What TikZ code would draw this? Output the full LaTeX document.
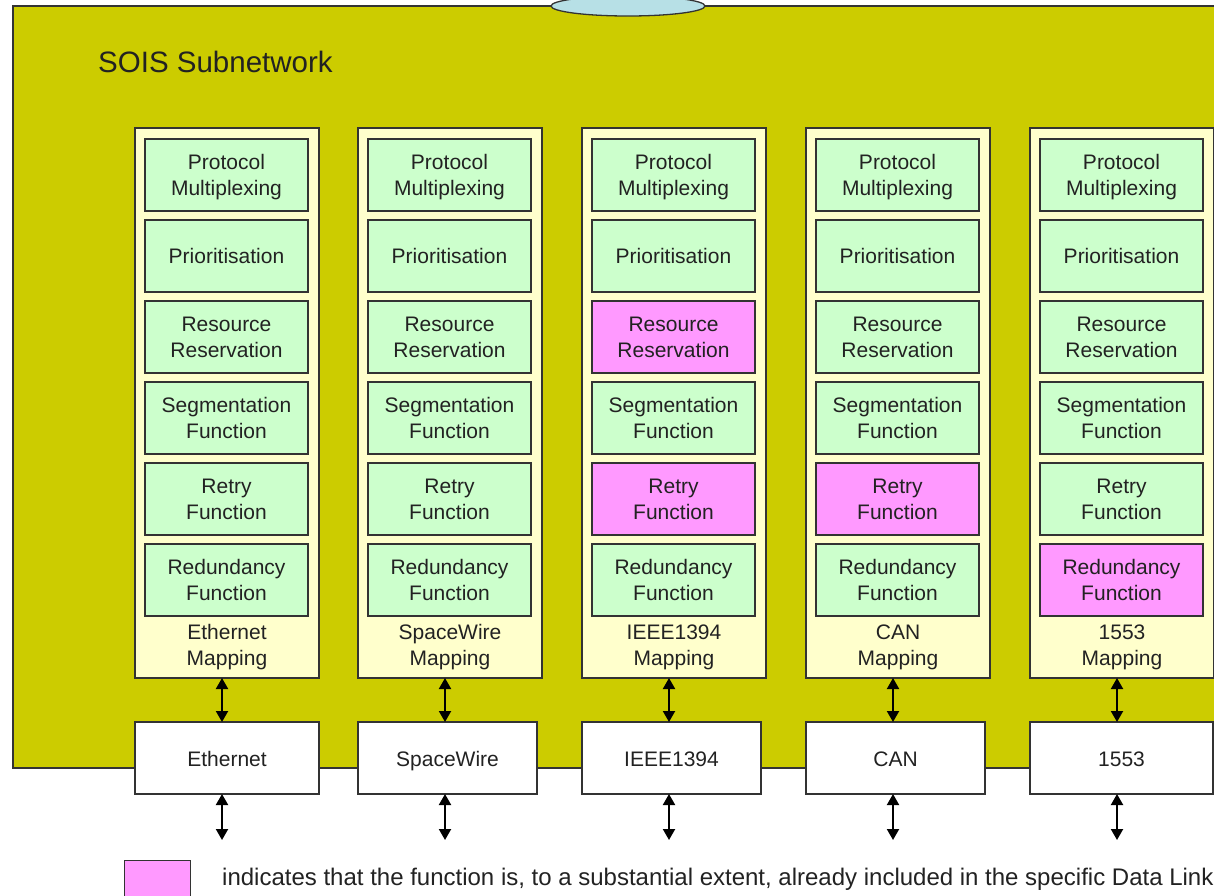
\documentclass[tikz,border=0pt]{standalone}
\usepackage{fontspec}
\setmainfont{Liberation Sans}
\usetikzlibrary{arrows.meta,calc}
\definecolor{soisolive}{HTML}{CCCC00}
\definecolor{colfill}{HTML}{FFFFCC}
\definecolor{fgreen}{HTML}{CCFFCC}
\definecolor{fpink}{HTML}{FF99FF}
\definecolor{ellblue}{HTML}{B7E0E6}
\definecolor{edge}{HTML}{333333}
\definecolor{txt}{HTML}{222222}
\newcommand{\twoline}[2]{\raisebox{-2pt}[\height][\depth]{\begin{tabular}{@{}c@{}}#1\\#2\end{tabular}}}
\tikzset{
  colbox/.style={draw=edge, line width=1.3pt, fill=colfill, anchor=north west, inner sep=0pt, outer sep=0pt, minimum width=184, minimum height=550},
  fbox/.style={draw=edge, line width=1.3pt, anchor=north west, inner sep=0pt, outer sep=0pt, minimum width=163, minimum height=72, align=center, text=txt},
  dlbox/.style={draw=edge, line width=1.3pt, fill=white, anchor=north west, inner sep=0pt, outer sep=0pt, minimum height=72, text=txt, text height=18pt, text depth=1pt},
  maplabel/.style={align=center, text=txt, inner sep=0pt},
  biarrow/.style={line width=2pt, {Triangle[length=11pt,width=12pt]}-{Triangle[length=11pt,width=12pt]}}
}
\begin{document}
\begin{tikzpicture}[x=1pt,y=-1pt,font=\fontsize{21}{26}\selectfont]
\useasboundingbox (0,0) rectangle (1214,895);
\clip (0,0) rectangle (1214,895);
\fill[white] (0,0) rectangle (1214,895);
% subnetwork background
\draw[draw=edge, line width=1.3pt, fill=soisolive] (13,6) rectangle (1240,768);
\draw[draw=edge, line width=1.3pt, fill=ellblue] (628,6) ellipse [x radius=77, y radius=10];
\node[anchor=west, text=txt, font=\fontsize{29.5}{34}\selectfont, inner sep=0pt] (title) at (98,62) {SOIS Subnetwork};
% columns
\foreach \i/\x/\bw/\dl/\cR/\cT/\cD in {
  1/135/184/Ethernet/fgreen/fgreen/fgreen,
  2/358/179/SpaceWire/fgreen/fgreen/fgreen,
  3/582/179/IEEE1394/fpink/fpink/fgreen,
  4/806/179/CAN/fgreen/fpink/fgreen,
  5/1030/183/1553/fgreen/fgreen/fpink}{
  \node[colbox] (col\i) at (\x,128) {};
  \node[fbox, fill=fgreen] (pm\i) at (\x+10,139) {\twoline{Protocol}{Multiplexing}};
  \node[fbox, fill=fgreen] (pr\i) at (\x+10,220) {Prioritisation};
  \node[fbox, fill=\cR] (rr\i) at (\x+10,301) {\twoline{Resource}{Reservation}};
  \node[fbox, fill=fgreen] (sf\i) at (\x+10,382) {\twoline{Segmentation}{Function}};
  \node[fbox, fill=\cT] (rf\i) at (\x+10,463) {\twoline{Retry}{Function}};
  \node[fbox, fill=\cD] (rd\i) at (\x+10,544) {\twoline{Redundancy}{Function}};
  \node[maplabel] (map\i) at (\x+92,647) {\dl\\Mapping};
  \node[dlbox, minimum width=\bw] (dl\i) at (\x,722) {\dl};
  \coordinate (top\i) at ($(col\i.south west)+(87,0)$);
  \coordinate (mid\i) at ($(dl\i.north west)+(87,0)$);
  \coordinate (low\i) at ($(dl\i.south west)+(87,0)$);
  \coordinate (end\i) at ($(low\i)+(0,46)$);
  \draw[biarrow] (top\i) -- (mid\i);
  \draw[biarrow] (low\i) -- (end\i);
}
% legend
\node[draw=edge, line width=1.3pt, fill=fpink, anchor=north west, minimum width=66, minimum height=45, inner sep=0pt] (legbox) at (124,860) {};
\node[anchor=west, text=txt, inner sep=0pt, font=\fontsize{24}{28}\selectfont] (legtext) at (222,879) {indicates that the function is, to a substantial extent, already included in the specific Data Link};
\end{tikzpicture}
\end{document}
